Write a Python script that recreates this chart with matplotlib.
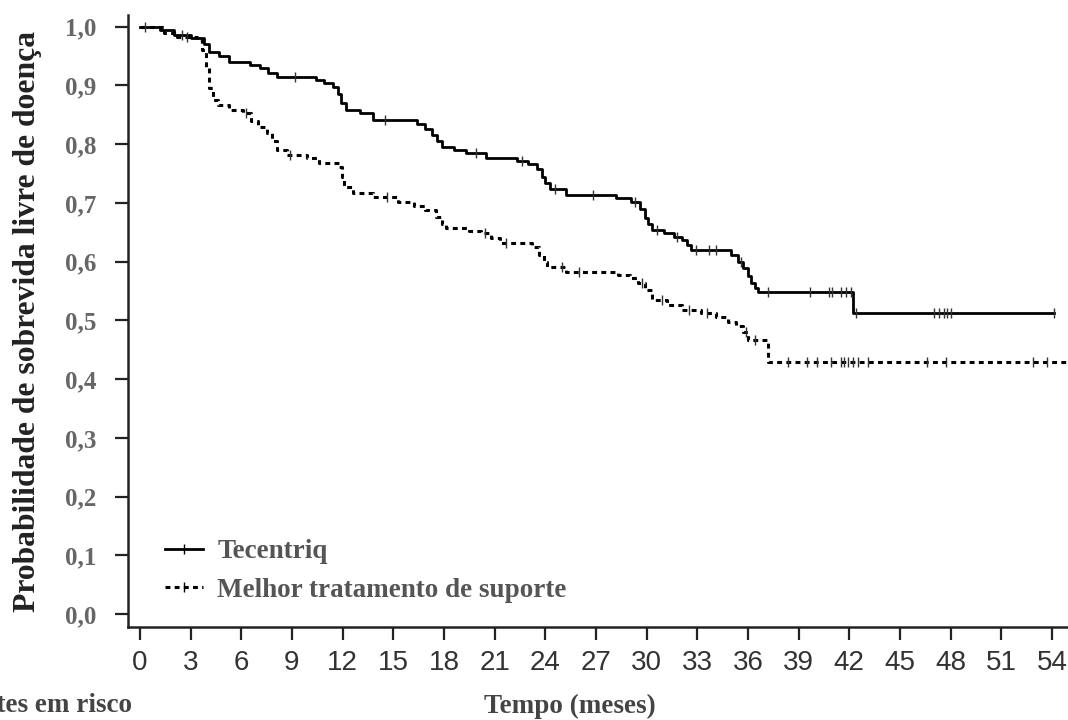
import matplotlib.pyplot as plt
from matplotlib.lines import Line2D
import numpy as np

# Kaplan-Meier step values (time in months, survival after the step)
tec_t = [0, 1.2, 2.0, 3.0, 3.8, 4.1, 4.7, 5.3, 6.5, 7.1, 7.6, 8.1, 10.4, 10.9, 11.4,
         11.7, 11.9, 12.2, 13.0, 13.8, 16.4, 16.9, 17.3, 17.6, 17.9, 18.6, 19.3,
         20.5, 22.3, 23.0, 23.5, 23.8, 24.0, 24.3, 25.2, 28.2, 29.1, 29.6, 29.9,
         30.1, 30.3, 31.0, 31.6, 32.1, 32.4, 32.6, 35.0, 35.4, 35.7, 36.0, 36.2,
         36.4, 36.6, 42.2, 54.1]
tec_s = [1.0, 0.995, 0.986, 0.981, 0.97, 0.957, 0.95, 0.94, 0.935, 0.93, 0.922,
         0.915, 0.91, 0.905, 0.898, 0.885, 0.87, 0.859, 0.853, 0.842, 0.835, 0.826,
         0.816, 0.806, 0.796, 0.79, 0.785, 0.777, 0.772, 0.766, 0.758, 0.745,
         0.734, 0.724, 0.714, 0.708, 0.702, 0.69, 0.675, 0.664, 0.654, 0.648,
         0.642, 0.637, 0.628, 0.62, 0.612, 0.60, 0.59, 0.575, 0.563, 0.556, 0.549,
         0.512, 0.512]
tec_cens = [0.3, 2.5, 9.2, 14.5, 19.9, 22.6, 24.6, 26.8, 29.3, 30.6, 31.8, 32.9,
            33.7, 34.1, 35.6, 37.2, 39.7, 40.8, 41.0, 41.5, 41.8, 42.1, 42.4, 47.0,
            47.3, 47.6, 47.8, 48.0, 54.1]

mts_t = [0, 1.4, 2.2, 3.4, 3.7, 3.9, 4.1, 4.3, 4.6, 5.3, 6.1, 6.6, 7.0, 7.5, 7.8,
         8.1, 8.7, 9.9, 10.6, 11.8, 11.95, 12.1, 12.6, 13.8, 15.3, 16.2, 16.9,
         17.5, 17.9, 18.1, 19.5, 20.2, 20.8, 21.3, 23.2, 23.6, 23.9, 24.1, 25.2,
         28.3, 29.0, 29.5, 29.9, 30.3, 31.2, 32.1, 33.2, 34.1, 34.8, 35.3, 35.7,
         36.0, 37.2, 55.0]
mts_s = [1.0, 0.99, 0.983, 0.978, 0.96, 0.93, 0.895, 0.876, 0.867, 0.859, 0.853,
         0.84, 0.83, 0.819, 0.805, 0.79, 0.782, 0.776, 0.768, 0.762, 0.745, 0.727,
         0.717, 0.710, 0.702, 0.695, 0.688, 0.676, 0.665, 0.658, 0.652, 0.649,
         0.64, 0.632, 0.625, 0.612, 0.60, 0.591, 0.583, 0.578, 0.572, 0.564,
         0.552, 0.535, 0.527, 0.518, 0.512, 0.506, 0.498, 0.49, 0.48, 0.467, 0.430,
         0.430]
mts_cens = [2.8, 6.3, 8.9, 14.6, 20.4, 21.7, 25.0, 26.0, 29.7, 30.9, 32.5, 33.6,
            35.9, 36.4, 38.4, 39.5, 40.1, 40.9, 41.5, 41.7, 41.9, 42.2, 42.5,
            43.1, 46.6, 47.7, 52.9, 53.7]

series_names = ['Tecentriq', 'Melhor tratamento de suporte']
xticks = list(range(0, 55, 3))
yticks = [0.0, 0.1, 0.2, 0.3, 0.4, 0.5, 0.6, 0.7, 0.8, 0.9, 1.0]
ytick_labels = [('%.1f' % v).replace('.', ',') for v in yticks]

grey = '#555555'
serif = 'Liberation Serif'
sans = 'Liberation Sans'
dashed = (0, (1.6, 1.4))


def step_at(times, surv, t):
    idx = np.searchsorted(times, t, side='right') - 1
    return np.asarray(surv)[idx]


fig = plt.figure(figsize=(10.68, 7.2), dpi=100)
ax = fig.add_axes([128 / 1068, 93 / 720, 940 / 1068, 612 / 720])

ax.step(tec_t, tec_s, where='post', color='black', lw=2.0)
ax.step(mts_t, mts_s, where='post', color='black', lw=2.2, linestyle=dashed)

ax.plot(tec_cens, step_at(tec_t, tec_s, tec_cens), linestyle='none',
        marker='|', ms=7, mew=1.0, color='#333333')
ax.plot(mts_cens, step_at(mts_t, mts_s, mts_cens), linestyle='none',
        marker='|', ms=7, mew=1.0, color='#333333')

ax.set_xlim(-0.71, 54.95)
ax.set_ylim(-0.022, 1.02)
for side in ('top', 'right'):
    ax.spines[side].set_visible(False)
for side in ('left', 'bottom'):
    ax.spines[side].set_linewidth(1.8)
    ax.spines[side].set_color('#222222')

ax.set_xticks(xticks)
ax.set_xticklabels([str(v) for v in xticks], family=sans, fontsize=20,
                   color='#333333')
ax.set_yticks(yticks)
ax.set_yticklabels(ytick_labels, family=serif, fontweight='bold',
                   fontsize=18, color='#666666')
ax.tick_params(axis='x', length=9.5, width=1.6, pad=7, color='#222222')
ax.tick_params(axis='y', length=9.5, width=1.6, pad=13, color='#222222')

ax.set_ylabel('Probabilidade de sobrevida livre de doença', family=serif,
              fontweight='bold', fontsize=22.8, color='#222222')
ax.yaxis.set_label_coords(-86 / 940, 0.5)

# legend handles carry a censor tick in the middle of the line
handles = [Line2D([], [], color='black', lw=2.0, marker='|', ms=7, mew=1.0),
           Line2D([], [], color='black', lw=2.2, linestyle=dashed,
                  marker='|', ms=7, mew=1.0)]
leg = ax.legend(handles, series_names, loc='lower left',
                bbox_to_anchor=(0.013, 0.0), frameon=False, numpoints=1,
                handlelength=1.4, handletextpad=0.55, labelspacing=0.5,
                prop={'family': serif, 'weight': 'bold', 'size': 19.5})
for txt in leg.get_texts():
    txt.set_color(grey)

fig.text(570 / 1068, 14 / 720, 'Tempo (meses)', family=serif,
         fontweight='bold', fontsize=19.5, color='#444444', ha='center',
         va='center')
fig.text(132 / 1068, 14 / 720, 'Pacientes em risco', family=serif,
         fontweight='bold', fontsize=19.5, color='#444444', ha='right',
         va='center')

fig.savefig('out.png', dpi=100)
